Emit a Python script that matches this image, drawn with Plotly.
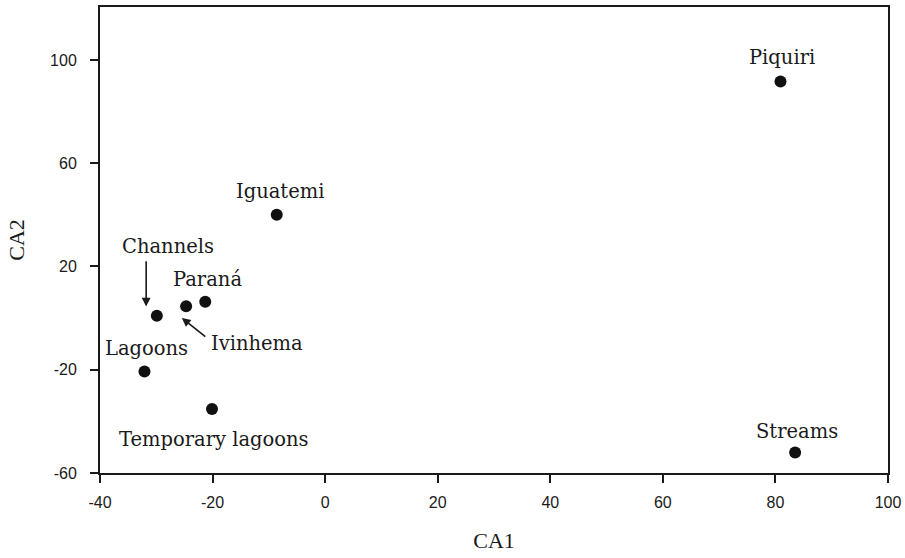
import plotly.graph_objects as go

# Data: site names and correspondence analysis scores
sites = ["Piquiri", "Streams", "Iguatemi", "Paraná", "Ivinhema", "Channels", "Lagoons", "Temporary lagoons"]
ca1 = [80.9, 83.5, -8.6, -21.3, -24.7, -29.9, -32.1, -20.1]
ca2 = [91.6, -52.1, 40.0, 6.3, 4.6, 0.9, -20.7, -35.2]

x_ticks = [-40, -20, 0, 20, 40, 60, 80, 100]
y_ticks = [-60, -20, 20, 60, 100]

# label pixel offsets (style only)
label_shift = {
    "Piquiri": (2, 24),
    "Streams": (2, 21),
    "Iguatemi": (3, 23),
    "Paraná": (2.5, 22),
    "Ivinhema": (71, -37),
    "Channels": (11, 69),
    "Lagoons": (2, 23),
    "Temporary lagoons": (2, -31),
}
# arrow: (xshift, yshift, ax, ay) relative to the point
arrow_spec = {
    "Channels": (-10.7, 9.3, 0, -46.7),
    "Ivinhema": (-4.3, -11.7, 25, 20),
}

fig = go.Figure()
fig.add_trace(go.Scatter(
    x=ca1, y=ca2, mode="markers",
    marker=dict(size=12, color="#111111"),
    hoverinfo="text", text=sites, showlegend=False,
))

annotations = []
for name, xv, yv in zip(sites, ca1, ca2):
    dx, dy = label_shift[name]
    annotations.append(dict(
        x=xv, y=yv, xref="x", yref="y", text=name, showarrow=False,
        xanchor="center", yanchor="middle", xshift=dx, yshift=dy,
        font=dict(family="DejaVu Serif", size=19.5, color="#1a1a1a"),
    ))
    if name in arrow_spec:
        sx, sy, ax, ay = arrow_spec[name]
        annotations.append(dict(
            x=xv, y=yv, xref="x", yref="y", text="", showarrow=True,
            xshift=sx, yshift=sy, ax=ax, ay=ay,
            arrowhead=2, arrowsize=1.1, arrowwidth=1.6, arrowcolor="#1a1a1a",
        ))

fig.update_layout(
    width=905, height=558,
    margin=dict(l=100, r=17, t=7, b=85),
    paper_bgcolor="white", plot_bgcolor="white",
    annotations=annotations,
    xaxis=dict(
        range=[-40, 100], tickvals=x_ticks, ticktext=[str(v) for v in x_ticks],
        showgrid=False, zeroline=False, showline=True, mirror=True, automargin=False,
        linecolor="#1a1a1a", linewidth=2, ticks="outside", ticklen=8,
        tickwidth=2, tickcolor="#1a1a1a", ticklabelstandoff=6,
        tickfont=dict(family="Liberation Sans", size=16, color="#1a1a1a"),
        title=dict(text="CA1", font=dict(family="Liberation Serif", size=22, color="#1a1a1a"), standoff=22),
    ),
    yaxis=dict(
        range=[-60, 120.5], tickvals=y_ticks, ticktext=[str(v) for v in y_ticks],
        showgrid=False, zeroline=False, showline=True, mirror=True, automargin=False,
        linecolor="#1a1a1a", linewidth=2, ticks="outside", ticklen=8,
        tickwidth=2, tickcolor="#1a1a1a", ticklabelstandoff=10,
        tickfont=dict(family="Liberation Sans", size=16, color="#1a1a1a"),
        title=dict(text="CA2", font=dict(family="Liberation Serif", size=22, color="#1a1a1a"), standoff=19),
    ),
)

fig.write_html(
    "out.html",
    config={"displayModeBar": False},
    post_script="document.body.style.margin='0';document.body.style.overflow='hidden';",
)
